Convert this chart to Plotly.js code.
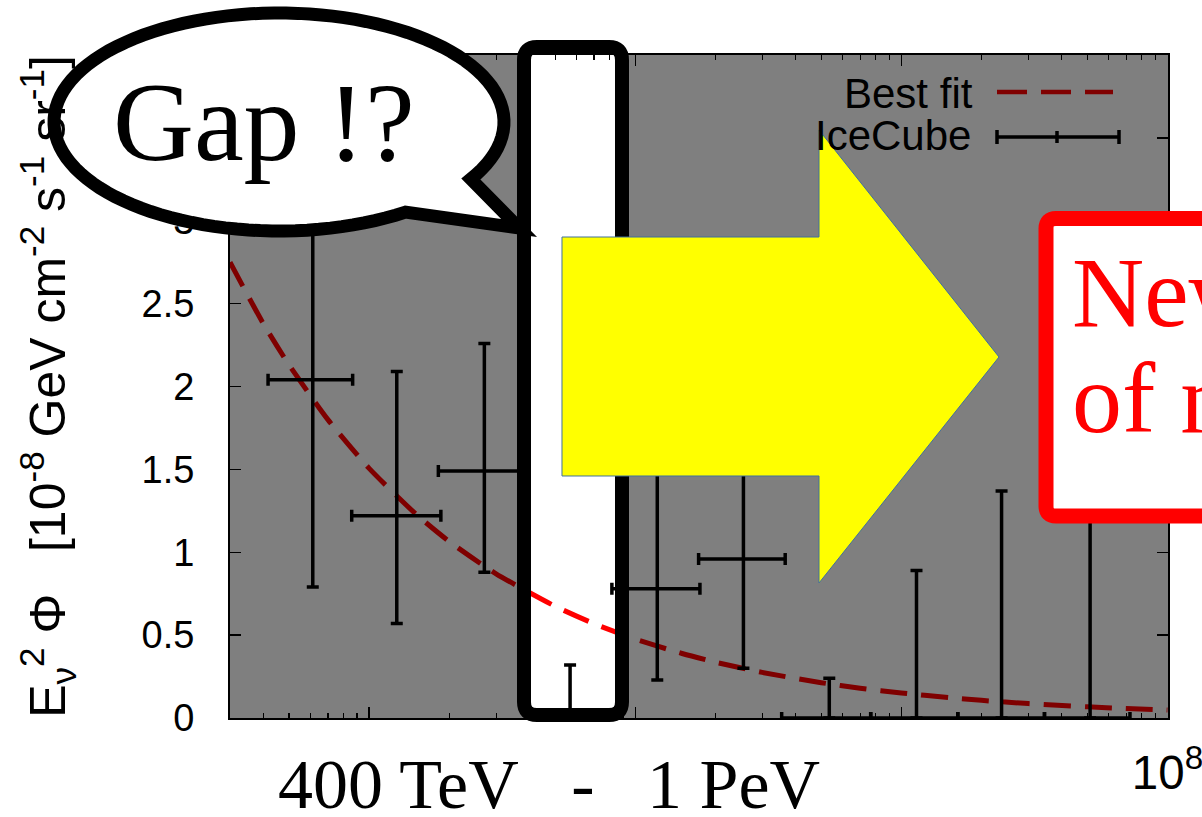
<!DOCTYPE html>
<html><head><meta charset="utf-8">
<script src="https://cdn.plot.ly/plotly-3.0.1.min.js"></script>
<style>html,body{margin:0;padding:0;background:#fff;overflow:hidden;} #chart{width:1202px;height:817px;}</style>
</head><body><div id="chart"></div>
<script>
// ---- data ----
const energy   = [6.14e4, 1.27e5, 2.71e5, 5.69e5, 1.21e6, 2.55e6, 5.36e6, 1.14e7, 2.38e7, 5.12e7];
const binLow   = [4.17e4, 8.6e4, 1.82e5, 3.98e5, 8.17e5, 1.73e6, 3.55e6, 7.67e6, 1.63e7, 3.45e7];
const binHigh  = [8.67e4, 1.86e5, 3.98e5, 8.5e5, 1.75e6, 3.66e6, 7.67e6, 1.63e7, 3.45e7, 7.23e7];
const flux     = [2.04, 1.22, 1.49, 0, 0.78, 0.96, 0, 0, 0, 0];
const fluxLow  = [0.79, 0.57, 0.88, 0, 0.23, 0.30, 0, 0, 0, 0];
const fluxHigh = [3.6, 2.09, 2.26, 0.32, 1.8, 1.95, 0.24, 0.89, 1.37, 2.2];

const fitEnergy = [3e4, 4e4, 5e4, 7e4, 1e5, 1.5e5, 2e5, 3e5, 5e5, 7e5, 1e6, 1.5e6, 2e6, 3e6, 5e6, 7e6, 1e7, 1.5e7, 2e7, 3e7, 5e7, 7e7, 1e8];
const fitFlux   = [2.75, 2.38, 2.13, 1.80, 1.506, 1.23, 1.065, 0.870, 0.674, 0.569, 0.476, 0.389, 0.337, 0.275, 0.213, 0.180, 0.151, 0.123, 0.1065, 0.087, 0.0674, 0.057, 0.0476];

const yTicks = [0, 0.5, 1, 1.5, 2, 2.5, 3, 3.5, 4];
const xRange = [3e4, 1e8];

// ---- geometry helpers (pixel -> paper) for the slide decorations ----
const PL = 230, PT = 55, PW = 938, PH = 663;
const fx = x => +((x - PL) / PW).toFixed(5);
const fy = y => +((PT + PH - y) / PH).toFixed(5);
const P = (x, y) => fx(x) + ',' + fy(y);

function roundRect(x0, y0, x1, y1, r) {
  return 'M' + P(x0 + r, y0) + ' L' + P(x1 - r, y0) + ' Q' + P(x1, y0) + ' ' + P(x1, y0 + r) +
    ' L' + P(x1, y1 - r) + ' Q' + P(x1, y1) + ' ' + P(x1 - r, y1) +
    ' L' + P(x0 + r, y1) + ' Q' + P(x0, y1) + ' ' + P(x0, y1 - r) +
    ' L' + P(x0, y0 + r) + ' Q' + P(x0, y0) + ' ' + P(x0 + r, y0) + ' Z';
}
function polyPath(pts) {
  return 'M' + pts.map(p => P(p[0], p[1])).join(' L') + ' Z';
}
// speech bubble: ellipse outline with a tail
function bubblePath() {
  const cx = 279, cy = 122, rx = 225, ry = 109;
  const pts = [];
  for (let a = 55.8; a <= 391.5; a += 3) {
    const t = a * Math.PI / 180;
    pts.push([cx + rx * Math.cos(t), cy + ry * Math.sin(t)]);
  }
  const tEnd = 391.5 * Math.PI / 180;
  pts.push([cx + rx * Math.cos(tEnd), cy + ry * Math.sin(tEnd)]);
  pts.push([519, 228]);
  return polyPath(pts);
}

const errXplus  = energy.map((e, i) => binHigh[i] - e);
const errXminus = energy.map((e, i) => e - binLow[i]);
const errYplus  = flux.map((f, i) => fluxHigh[i] - f);
const errYminus = flux.map((f, i) => f - fluxLow[i]);

const traces = [
  {
    x: fitEnergy, y: fitFlux, type: 'scatter', mode: 'lines', name: 'Best fit',
    line: {color: '#ff0000', width: 5, dash: '27px,14px', shape: 'spline', smoothing: 0.6},
    hoverinfo: 'skip'
  },
  {
    x: energy, y: flux, type: 'scatter', mode: 'markers', name: 'IceCube',
    marker: {size: 3, color: '#000'},
    error_x: {type: 'data', symmetric: false, array: errXplus, arrayminus: errXminus, color: '#000', thickness: 3.5, width: 6},
    error_y: {type: 'data', symmetric: false, array: errYplus, arrayminus: errYminus, color: '#000', thickness: 3.5, width: 6}
  }
];

const shade = 'rgba(0,0,0,0.5)';
const shapes = [
  {type: 'rect', xref: 'paper', yref: 'paper', x0: 0, x1: fx(524), y0: 0, y1: 1, fillcolor: shade, line: {width: 0}, layer: 'above'},
  {type: 'rect', xref: 'paper', yref: 'paper', x0: fx(622), x1: 1, y0: 0, y1: 1, fillcolor: shade, line: {width: 0}, layer: 'above'},
  {type: 'path', xref: 'paper', yref: 'paper', path: roundRect(524, 47, 622, 715, 13), line: {color: '#000', width: 14}, fillcolor: 'rgba(0,0,0,0)', layer: 'above'},
  {type: 'path', xref: 'paper', yref: 'paper', path: bubblePath(), line: {color: '#000', width: 13}, fillcolor: '#fff', layer: 'above'},
  {type: 'path', xref: 'paper', yref: 'paper', path: polyPath([[562,237],[819,237],[819,130],[999,357],[819,583],[819,476],[562,476]]), line: {color: '#41719c', width: 1}, fillcolor: '#ffff00', layer: 'above'},
  {type: 'path', xref: 'paper', yref: 'paper', path: roundRect(1046, 218.5, 1320, 516, 10), line: {color: '#ff0000', width: 15}, fillcolor: '#fff', layer: 'above'},
  {type: 'rect', xref: 'paper', yref: 'paper', x0: fx(236), x1: fx(1128), y0: fy(820), y1: fy(745), fillcolor: '#fff', line: {width: 0}, layer: 'above'},
  {type: 'line', xref: 'paper', yref: 'paper', x0: fx(997), x1: fx(1113), y0: fy(92), y1: fy(92), line: {color: '#800000', width: 4.5, dash: '30px,14px'}, layer: 'above'},
  {type: 'path', xref: 'paper', yref: 'paper', path: 'M' + P(997,130) + ' L' + P(997,144) + ' M' + P(997,137) + ' L' + P(1119,137) + ' M' + P(1119,130) + ' L' + P(1119,144) + ' M' + P(1057,131) + ' L' + P(1057,143), line: {color: '#000', width: 3.5}, layer: 'above'}
];

const serif = 'Liberation Serif, Times New Roman, serif';
const sans = 'Liberation Sans, Arial, sans-serif';
const ann = (text, x, y, size, color, family, xanchor) => ({
  text, xref: 'paper', yref: 'paper', x: fx(x), y: fy(y), showarrow: false,
  xanchor: xanchor || 'center', yanchor: 'middle', font: {family, size, color}
});
const annotations = [
  ann('Gap !?', 264, 122, 112, '#000', serif),
  ann('400 TeV\u00a0\u00a0 -\u00a0\u00a0 1 PeV', 549, 784, 70, '#000', serif),
  ann('New component', 1070, 293, 100, '#ff0000', serif, 'left'),
  ann('of neutrinos', 1070, 399, 100, '#ff0000', serif, 'left'),
  ann('Best fit', 975, 93, 42, '#000', sans, 'right'),
  ann('IceCube', 973, 136, 42, '#000', sans, 'right')
];

const layout = {
  width: 1202, height: 817,
  margin: {l: PL, r: 1202 - PL - PW, t: PT, b: 817 - PT - PH, pad: 0},
  paper_bgcolor: '#fff', plot_bgcolor: '#fff',
  showlegend: false,
  font: {family: sans, color: '#000'},
  xaxis: {
    type: 'log', range: [Math.log10(xRange[0]), Math.log10(xRange[1]) + 0.002],
    tickmode: 'linear', tick0: 0, dtick: 1,
    exponentformat: 'power', showexponent: 'all',
    ticks: 'inside', ticklen: 11, tickwidth: 1.5, tickcolor: '#000',
    minor: {ticks: 'inside', ticklen: 5, tickwidth: 1.2, tickcolor: '#000', dtick: 'D1', showgrid: false},
    showline: true, linecolor: '#000', linewidth: 2, mirror: 'allticks',
    showgrid: false, zeroline: false, ticklabeloverflow: 'allow',
    tickfont: {family: sans, size: 38, color: '#000'}, ticklabelstandoff: 14
  },
  yaxis: {
    range: [0, 4], tickvals: yTicks,
    ticks: 'inside', ticklen: 11, tickwidth: 1.5, tickcolor: '#000',
    showline: true, linecolor: '#000', linewidth: 2, mirror: 'allticks',
    showgrid: false, zeroline: false,
    tickfont: {family: sans, size: 38, color: '#000'}, ticklabelstandoff: 26,
    title: {text: 'E<sub>\u03bd</sub><sup>2</sup> \u03a6\u00a0\u00a0 [10<sup>-8</sup> GeV cm<sup>-2</sup> s<sup>-1</sup> sr<sup>-1</sup>]', font: {family: sans, size: 50, color: '#000'}, standoff: 60}
  },
  shapes, annotations
};

Plotly.newPlot('chart', traces, layout, {staticPlot: true, displayModeBar: false});
</script>
</body></html>
